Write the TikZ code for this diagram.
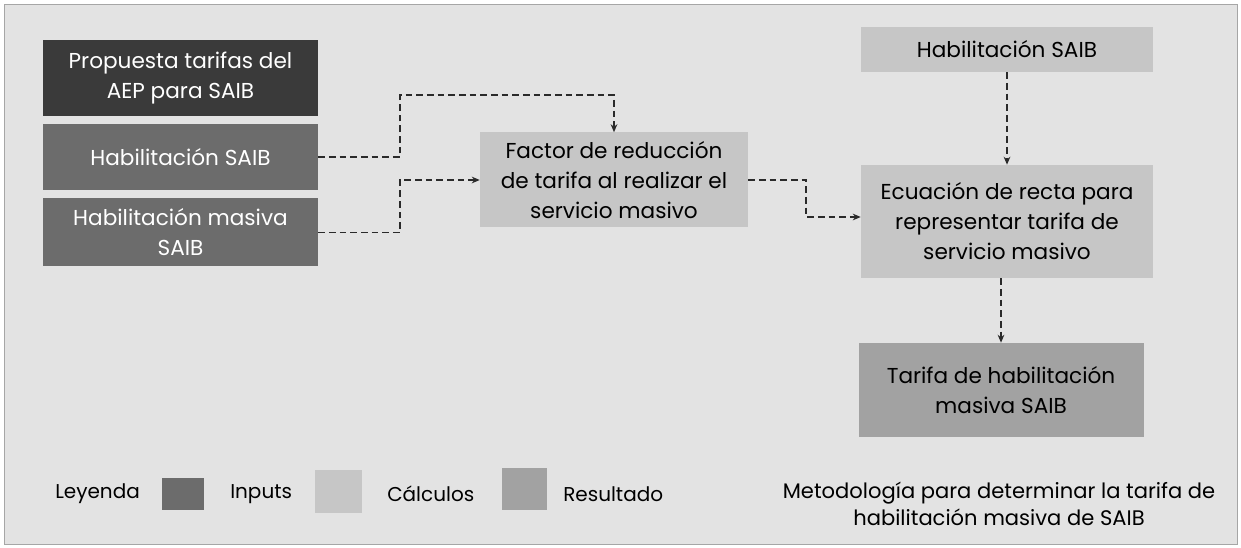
\documentclass[tikz,border=0pt]{standalone}
\usepackage{fontspec}
\setmainfont{Poppins}
\usetikzlibrary{arrows.meta,calc}
\definecolor{bgc}{HTML}{E3E3E3}
\definecolor{darkbox}{HTML}{3A3A3A}
\definecolor{inbox}{HTML}{6C6C6C}
\definecolor{calcbox}{HTML}{C6C6C6}
\definecolor{resbox}{HTML}{A2A2A2}
\definecolor{linec}{HTML}{2A2A2A}
\tikzset{
  box/.style={rectangle, inner sep=2pt, align=center, font=\fontsize{16.2}{22.5}\selectfont},
  inputbox/.style={box, fill=inbox, text=white},
  topbox/.style={box, fill=darkbox, text=white},
  calcnode/.style={box, fill=calcbox, text=black},
  resnode/.style={box, fill=resbox, text=black},
  conn/.style={draw=linec, line width=1.1pt, dash pattern=on 5pt off 3pt, -{Stealth[length=6pt,width=5pt]}},
  legtext/.style={font=\fontsize{15}{18}\selectfont, anchor=west, inner sep=0pt},
  captext/.style={font=\fontsize{15.8}{20.5}\selectfont, align=center}
}
\begin{document}
\begin{tikzpicture}[x=0.75pt,y=-0.75pt]
\useasboundingbox (0,0) rectangle (1241,548);
\fill[white] (0,0) rectangle (1241,548);
\filldraw[fill=bgc, draw=gray!70, line width=0.4pt] (4,4) rectangle (1237,544);

% input column
\node[topbox, minimum width=275*0.75pt, minimum height=76*0.75pt] (prop) at (180.5,78) {Propuesta tarifas del\\AEP para SAIB};
\node[inputbox, minimum width=275*0.75pt, minimum height=66*0.75pt] (habl) at (180.5,157) {Habilitación SAIB};
\node[inputbox, minimum width=275*0.75pt, minimum height=68*0.75pt] (habm) at (180.5,232.5) {Habilitación masiva\\SAIB};

% calculation
\node[calcnode, minimum width=268*0.75pt, minimum height=95*0.75pt] (fact) at (614,180) {Factor de reducción\\de tarifa al realizar el\\servicio masivo};
\node[calcnode, minimum width=292*0.75pt, minimum height=45*0.75pt] (habr) at (1007,49.5) {Habilitación SAIB};
\node[calcnode, minimum width=292*0.75pt, minimum height=113*0.75pt] (ecu) at (1007,221.5) {Ecuación de recta para\\representar tarifa de\\servicio masivo};
\node[resnode, minimum width=285*0.75pt, minimum height=94*0.75pt] (res) at (1001,390) {Tarifa de habilitación\\masiva SAIB};

% connectors
\coordinate (j1) at (400,95);
\coordinate (j2) at (400,180);
\coordinate (j3) at (806,217);
\draw[conn] (habl.east) -| (j1) -| (fact.north);
\draw[conn] (habm.east) -| (j2) -- (fact.west);
\draw[conn] (fact.east) -| (j3) -- (j3 -| ecu.west);
\draw[conn] (habr.south) -- (ecu.north);
\draw[conn] (res.north |- ecu.south) -- (res.north);

% legend
\node[legtext] (ley) at (55,494) {Leyenda};
\node[fill=inbox, minimum width=42*0.75pt, minimum height=32*0.75pt, inner sep=0pt] (lin) at (183,494) {};
\node[legtext] (lint) at (230,494) {Inputs};
\node[fill=calcbox, minimum width=47*0.75pt, minimum height=43*0.75pt, inner sep=0pt] (lca) at (338,491) {};
\node[legtext] (lcat) at (387,494) {Cálculos};
\node[fill=resbox, minimum width=45*0.75pt, minimum height=42*0.75pt, inner sep=0pt] (lre) at (524,489) {};
\node[legtext] (lret) at (563,494) {Resultado};

% caption
\node[captext] (cap) at (999,504) {Metodología para determinar la tarifa de\\habilitación masiva de SAIB};
\end{tikzpicture}
\end{document}
